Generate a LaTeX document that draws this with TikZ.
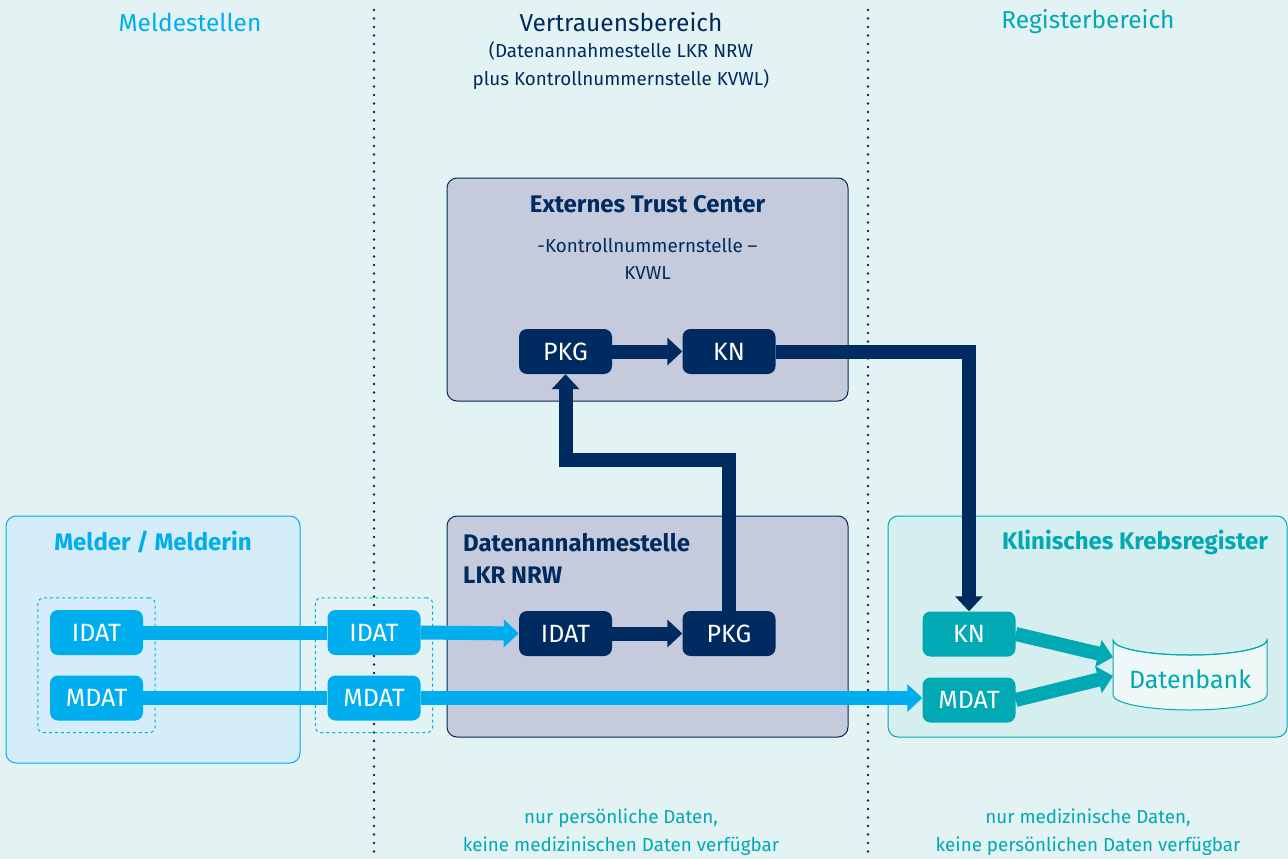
\documentclass[tikz,border=0pt]{standalone}
\usepackage{fontspec}
\setmainfont{Fira Sans}
\usetikzlibrary{arrows.meta,fit,calc}
\definecolor{bgC}{HTML}{E3F3F3}
\definecolor{cyanC}{HTML}{00AEEF}
\definecolor{navyC}{HTML}{002B60}
\definecolor{tealC}{HTML}{00A9B3}
\definecolor{lavC}{HTML}{C5CADC}
\definecolor{lblueC}{HTML}{D4EDF9}
\definecolor{regC}{HTML}{D5EEF0}
\definecolor{dbC}{HTML}{EEF8F6}
\begin{document}
\begin{tikzpicture}[x=1pt,y=-1pt,
  heading/.style={font=\fontsize{24.5}{28}\selectfont},
  boldhead/.style={font=\fontsize{24}{32}\selectfont\bfseries},
  sub/.style={font=\fontsize{18.8}{28}\selectfont, align=center},
  dnode/.style={rounded corners=8pt, minimum width=93pt, minimum height=45pt, text=white, font=\fontsize{25}{28}\selectfont, inner sep=0pt},
  panel/.style={rounded corners=10pt, line width=1pt, inner sep=0pt},
  dashbox/.style={draw=cyanC, dashed, line width=1pt, rounded corners=6pt, inner sep=12pt},
  sepline/.style={navyC, line width=2.6pt, line cap=round, dash pattern=on 0pt off 8.5pt},
  flow/.style={line width=14pt},
  tip/.style={-{Triangle[width=27pt,length=15pt]}}
]
\fill[bgC] (0,0) rectangle (1288,859);
\useasboundingbox (0,0) rectangle (1288,859);

% separators
\coordinate (s1a) at (374,10); \coordinate (s1b) at (374,859);
\coordinate (s2a) at (868,10); \coordinate (s2b) at (868,859);
\draw[sepline] (s1a) -- (s1b);
\draw[sepline] (s2a) -- (s2b);

% headings
\node[heading, text=cyanC] (hMeld) at (190,22) {Meldestellen};
\node[heading, text=navyC] (hVer) at (621,22) {Vertrauensbereich};
\node[sub, text=navyC] (hVerSub) at (621,66) {(Datenannahmestelle LKR NRW\\plus Kontrollnummernstelle KVWL)};
\node[heading, text=tealC] (hReg) at (1088,22) {Registerbereich};

% panels
\node[panel, draw=navyC, fill=lavC, minimum width=401pt, minimum height=223pt] (trust) at (647.5,289.5) {};
\node[panel, draw=navyC, fill=lavC, minimum width=401pt, minimum height=221pt] (dast) at (647.5,626.5) {};
\node[panel, draw=cyanC, fill=lblueC, minimum width=294pt, minimum height=247pt] (melder) at (153,639.5) {};
\node[panel, draw=tealC, fill=regC, minimum width=399pt, minimum height=221pt] (reg) at (1087.5,626.5) {};

% panel titles
\node[boldhead, text=navyC] (tTrust) at (647.5,204) {Externes Trust Center};
\node[sub, text=navyC, font=\fontsize{18.8}{27}\selectfont] (tTrustSub) at (647.5,258.5) {-Kontrollnummernstelle –\\KVWL};
\node[boldhead, text=navyC, align=left, anchor=west, inner sep=0pt] (tDast) at (463,558) {Datenannahmestelle\\LKR NRW};
\node[boldhead, text=cyanC] (tMelder) at (153,542) {Melder / Melderin};
\node[boldhead, text=tealC] (tReg) at (1135,542) {Klinisches Krebsregister};

% data nodes
\node[dnode, fill=cyanC] (idatL) at (96.5,632.5) {IDAT};
\node[dnode, fill=cyanC] (mdatL) at (96.5,698) {MDAT};
\node[dnode, fill=cyanC] (idatM) at (374,632.5) {IDAT};
\node[dnode, fill=cyanC] (mdatM) at (374,698) {MDAT};
\node[dashbox, fit=(idatL)(mdatL)] (grpL) {};
\node[dashbox, fit=(idatM)(mdatM)] (grpM) {};

\node[dnode, fill=navyC] (idatN) at (565.5,633.5) {IDAT};
\node[dnode, fill=navyC] (pkgB) at (729,633.5) {PKG};
\node[dnode, fill=navyC] (pkgT) at (565.5,351.5) {PKG};
\node[dnode, fill=navyC] (knT) at (729,351.5) {KN};

\node[dnode, fill=tealC] (knR) at (969,634) {KN};
\node[dnode, fill=tealC] (mdatR) at (969,700) {MDAT};

% database
\node[minimum width=154pt, minimum height=85pt, inner sep=0pt] (db) at (1190,667.5) {};
\draw[tealC, fill=dbC, line width=1pt]
  (1113,640) -- (1113,695) arc[start angle=180, end angle=360, x radius=77pt, y radius=15pt]
  -- (1267,640) arc[start angle=0, end angle=180, x radius=77pt, y radius=-15pt] -- cycle;
\draw[tealC, line width=1pt] (1113,640) arc[start angle=180, end angle=360, x radius=77pt, y radius=15pt];
\node[text=tealC, font=\fontsize{25}{28}\selectfont] (dbText) at (1190,679) {Datenbank};
\coordinate (dbIn1) at (1113,657);
\coordinate (dbIn2) at (1113,676);

% cyan flows
\draw[flow, cyanC] (idatL.east) -- (idatM.west);
\draw[flow, cyanC, tip] (idatM.east) -- (idatN.west);
\draw[flow, cyanC] (mdatL.east) -- (mdatM.west);
\draw[flow, cyanC, tip] (mdatM.east) -- (mdatM.east -| mdatR.west);

% navy flows
\draw[flow, navyC, tip] (idatN.east) -- (pkgB.west);
\draw[flow, navyC, tip] (pkgT.east) -- (knT.west);
\coordinate (turn) at (650,460);
\draw[flow, navyC, tip] (pkgB.north) |- (turn) -| (pkgT.south);
\draw[flow, navyC, tip] (knT.east) -| (knR.north);

% teal flows
\draw[flow, tealC, tip] (knR.east) -- (dbIn1);
\draw[flow, tealC, tip] (mdatR.east) -- (dbIn2);

% bottom notes
\node[sub, text=tealC] (nVer) at (621,832) {nur persönliche Daten,\\keine medizinischen Daten verfügbar};
\node[sub, text=tealC] (nReg) at (1088,832) {nur medizinische Daten,\\keine persönlichen Daten verfügbar};
\end{tikzpicture}
\end{document}
